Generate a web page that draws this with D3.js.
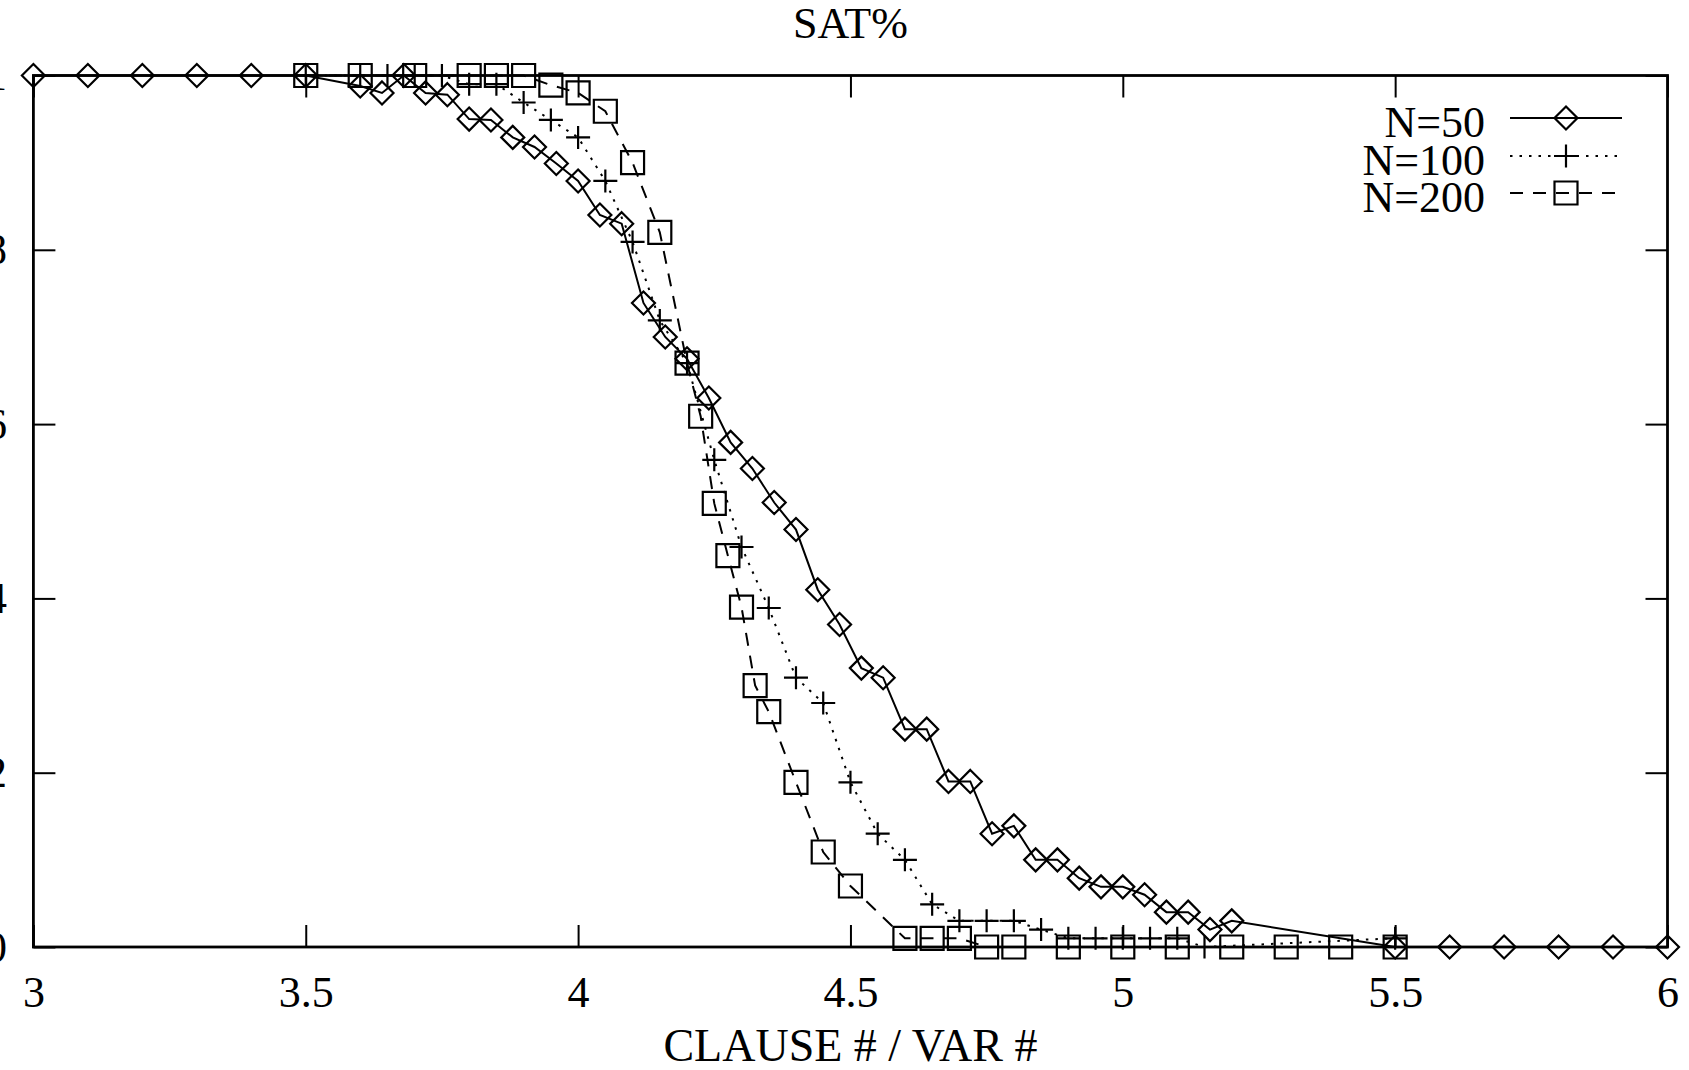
<!DOCTYPE html>
<html>
<head>
<meta charset="utf-8">
<script src="https://cdn.jsdelivr.net/npm/d3@7"></script>
<style>
  html, body { margin: 0; padding: 0; background: #fff; }
  svg { display: block; }
  text { font-family: "Liberation Serif", "Times New Roman", serif; fill: #000; }
</style>
</head>
<body>
<svg id="chart" width="1689" height="1070"></svg>
<script>
// ---- data ----
const xTicks = [3, 3.5, 4, 4.5, 5, 5.5, 6];
const xTickLabels = ["3", "3.5", "4", "4.5", "5", "5.5", "6"];
const yTicks = [0, 0.2, 0.4, 0.6, 0.8, 1];
const yTickLabels = ["0", "0.2", "0.4", "0.6", "0.8", "1"];

const seriesNames = ["N=50", "N=100", "N=200"];

const n50X = [3.0, 3.1, 3.2, 3.3, 3.4, 3.5,
  3.60, 3.64, 3.68, 3.72, 3.76, 3.80, 3.84, 3.88, 3.92, 3.96,
  4.00, 4.04, 4.08, 4.12, 4.16, 4.20, 4.24, 4.28, 4.32, 4.36,
  4.40, 4.44, 4.48, 4.52, 4.56, 4.60, 4.64, 4.68, 4.72, 4.76,
  4.80, 4.84, 4.88, 4.92, 4.96, 5.00, 5.04, 5.08, 5.12, 5.16, 5.20,
  5.5, 5.6, 5.7, 5.8, 5.9, 6.0];
const n50Y = [1, 1, 1, 1, 1, 1,
  0.988, 0.980, 1.000, 0.980, 0.978, 0.950, 0.949, 0.929, 0.918, 0.899,
  0.879, 0.840, 0.830, 0.739, 0.700, 0.675, 0.630, 0.579, 0.549, 0.510,
  0.479, 0.410, 0.370, 0.320, 0.309, 0.250, 0.250, 0.190, 0.190, 0.130,
  0.139, 0.100, 0.100, 0.079, 0.069, 0.069, 0.060, 0.040, 0.040, 0.020, 0.030,
  0, 0, 0, 0, 0, 0];

const n100X = [3.5, 3.6, 3.65, 3.7, 3.75, 3.8, 3.85, 3.9, 3.95,
  4.0, 4.05, 4.1, 4.15, 4.2, 4.25, 4.3, 4.35, 4.4, 4.45,
  4.5, 4.55, 4.6, 4.65, 4.7, 4.75, 4.8, 4.85, 4.9, 4.95,
  5.0, 5.05, 5.1, 5.15, 5.5];
const n100Y = [1, 1, 1, 1, 1, 0.990, 0.990, 0.969, 0.949,
  0.929, 0.879, 0.809, 0.719, 0.670, 0.559, 0.459, 0.389, 0.309, 0.280,
  0.189, 0.130, 0.100, 0.049, 0.030, 0.030, 0.030, 0.020, 0.010, 0.010,
  0.010, 0.010, 0.010, 0.000, 0.010];

const n200X = [3.5, 3.6, 3.7, 3.8, 3.85, 3.9, 3.95, 4.0, 4.05, 4.1, 4.15,
  4.2, 4.225, 4.25, 4.275, 4.3, 4.325, 4.35, 4.4, 4.45, 4.5,
  4.6, 4.65, 4.7, 4.75, 4.8, 4.9, 5.0, 5.1, 5.2, 5.3, 5.4, 5.5];
const n200Y = [1, 1, 1, 1, 1, 1, 0.989, 0.980, 0.959, 0.900, 0.820,
  0.670, 0.609, 0.509, 0.449, 0.390, 0.300, 0.270, 0.189, 0.109, 0.070,
  0.010, 0.010, 0.010, 0, 0, 0, 0, 0, 0, 0, 0, 0];

// ---- layout ----
const svg = d3.select("#chart");
const L = 33.4, R = 1667.5, T = 75.5, B = 947;
const x = d3.scaleLinear().domain([3, 6]).range([L, R]);
const y = d3.scaleLinear().domain([0, 1]).range([B, T]);
const FS = 44;

const markers = {
  diamond: (cx, cy) => `M${cx},${cy - 11.5}L${cx + 11.5},${cy}L${cx},${cy + 11.5}L${cx - 11.5},${cy}Z`,
  plus: (cx, cy) => `M${cx - 12},${cy}L${cx + 12},${cy}M${cx},${cy - 11.5}L${cx},${cy + 11.5}`,
  square: (cx, cy) => `M${cx - 11.5},${cy - 11.5}h23v23h-23Z`
};

const series = [
  { name: seriesNames[0], xs: n50X, ys: n50Y, marker: "diamond", dash: null },
  { name: seriesNames[1], xs: n100X, ys: n100Y, marker: "plus", dash: "2.5,7" },
  { name: seriesNames[2], xs: n200X, ys: n200Y, marker: "square", dash: "13,10" }
];

// axes
const gBottom = svg.append("g").attr("transform", `translate(0,${B})`)
  .call(d3.axisBottom(x).tickValues(xTicks).tickFormat((d, i) => xTickLabels[i])
    .tickSize(-22).tickSizeOuter(0));
gBottom.selectAll("text").attr("y", 60).attr("dy", 0).attr("font-size", FS)
  .style("font-family", '"Liberation Serif", serif');

const gTop = svg.append("g").attr("transform", `translate(0,${T})`)
  .call(d3.axisTop(x).tickValues(xTicks).tickFormat("").tickSize(-22).tickSizeOuter(0));

// y tick labels sit mostly beyond the left edge of the picture, as in the reference
const gLeft = svg.append("g").attr("transform", `translate(${L},0)`)
  .call(d3.axisLeft(y).tickValues(yTicks).tickFormat((d, i) => yTickLabels[i])
    .tickSize(-22).tickSizeOuter(0));
gLeft.selectAll("text").attr("x", -(L - 7)).attr("font-size", FS)
  .style("font-family", '"Liberation Serif", serif');

const gRight = svg.append("g").attr("transform", `translate(${R},0)`)
  .call(d3.axisRight(y).tickValues(yTicks).tickFormat("").tickSize(-22).tickSizeOuter(0));

svg.selectAll(".domain").remove();
svg.selectAll(".tick line").attr("stroke", "#000").attr("stroke-width", 2);

// border
svg.append("rect").attr("x", L).attr("y", T).attr("width", R - L).attr("height", B - T)
  .attr("fill", "none").attr("stroke", "#000").attr("stroke-width", 2.8);

// series
const line = d3.line().x(d => x(d[0])).y(d => y(d[1]));
series.forEach(s => {
  const pts = s.xs.map((v, i) => [v, s.ys[i]]);
  svg.append("path").datum(pts).attr("d", line)
    .attr("fill", "none").attr("stroke", "#000").attr("stroke-width", 2)
    .attr("stroke-dasharray", s.dash);
  svg.append("g").selectAll("path").data(pts).join("path")
    .attr("d", d => markers[s.marker](x(d[0]), y(d[1])))
    .attr("fill", "none").attr("stroke", "#000").attr("stroke-width", 2.2);
});

// legend
const legBaselines = [137, 175, 212];
series.forEach((s, i) => {
  const by = legBaselines[i];
  svg.append("text").attr("x", 1485).attr("y", by).attr("text-anchor", "end")
    .attr("font-size", FS).text(s.name);
  const ly = by - 19;
  svg.append("line").attr("x1", 1510).attr("x2", 1622).attr("y1", ly).attr("y2", ly)
    .attr("stroke", "#000").attr("stroke-width", 2).attr("stroke-dasharray", s.dash);
  svg.append("path").attr("d", markers[s.marker](1566, ly))
    .attr("fill", "none").attr("stroke", "#000").attr("stroke-width", 2.2);
});

// title and axis label
svg.append("text").attr("x", (L + R) / 2).attr("y", 38).attr("text-anchor", "middle")
  .attr("font-size", FS).text("SAT%");
svg.append("text").attr("x", (L + R) / 2).attr("y", 1061).attr("text-anchor", "middle")
  .attr("font-size", 46).text("CLAUSE # / VAR #");
</script>
</body>
</html>
